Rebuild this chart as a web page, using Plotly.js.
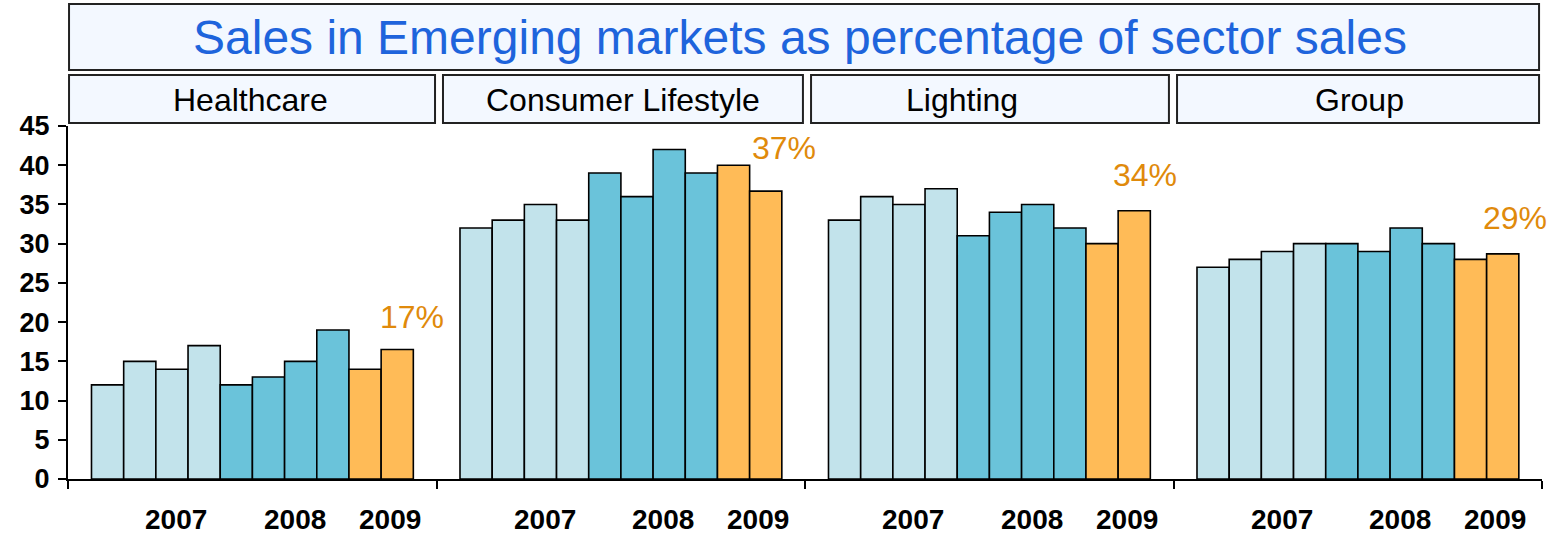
<!DOCTYPE html>
<html>
<head>
<meta charset="utf-8">
<script src="https://cdn.plot.ly/plotly-3.0.1.min.js"></script>
<style>
  html, body { margin: 0; padding: 0; background: #ffffff; }
  #chart { width: 1553px; height: 536px; }
</style>
</head>
<body>
<div id="chart"></div>
<script>
// ---------------- data ----------------
const quarters = ['Q1 2007','Q2 2007','Q3 2007','Q4 2007','Q1 2008','Q2 2008','Q3 2008','Q4 2008','Q1 2009','Q2 2009'];
const quarterYear = ['2007','2007','2007','2007','2008','2008','2008','2008','2009','2009'];
const segments = ['Healthcare','Consumer Lifestyle','Lighting','Group'];
const healthcare = [12, 15, 14, 17, 12, 13, 15, 19, 14, 16.5];
const consumerLifestyle = [32, 33, 35, 33, 39, 36, 42, 39, 40, 36.7];
const lighting = [33, 36, 35, 37, 31, 34, 35, 32, 30, 34.2];
const group = [27, 28, 29, 30, 30, 29, 32, 30, 28, 28.7];
const yearTickLabels = ['2007', '2008', '2009'];
const latestLabels = ['17%', '37%', '34%', '29%'];
const yTickValues = [0, 5, 10, 15, 20, 25, 30, 35, 40, 45];
const chartTitle = 'Sales in Emerging markets as percentage of sector sales';

// ---------------- styling ----------------
const yearColors = { '2007': '#C2E3EB', '2008': '#6AC3DA', '2009': '#FFBB57' };
const FONT = 'Liberation Sans, Arial, Helvetica, sans-serif';
const series = [healthcare, consumerLifestyle, lighting, group];
const axisIds = ['x', 'x2', 'x3', 'x4'];
const xRange = [-1.23, 10.22];

const traces = series.map((vals, i) => ({
  type: 'bar',
  x: quarters,
  y: vals,
  xaxis: axisIds[i],
  yaxis: 'y',
  marker: {
    color: quarterYear.map(yr => yearColors[yr]),
    line: { color: '#000000', width: 1.6 }
  },
  hoverinfo: 'x+y',
  showlegend: false
}));

const layout = {
  width: 1553,
  height: 536,
  autosize: false,
  paper_bgcolor: '#ffffff',
  plot_bgcolor: '#ffffff',
  margin: { l: 68, r: 11, t: 126, b: 57, pad: 0 },
  bargap: 0,
  showlegend: false,
  font: { family: FONT, color: '#000000' },
  yaxis: {
    range: [0, 45],
    tickmode: 'array',
    tickvals: yTickValues,
    ticktext: yTickValues.map(String),
    ticks: 'outside',
    ticklen: 8,
    tickwidth: 2,
    tickcolor: '#000000',
    showline: true,
    linecolor: '#000000',
    linewidth: 2,
    showgrid: false,
    zeroline: false,
    tickfont: { family: FONT, size: 27, weight: 'bold', color: '#000000' },
    ticklabelstandoff: 3,
    fixedrange: true
  },
  shapes: [],
  annotations: []
};

axisIds.forEach((id, i) => {
  const key = 'xaxis' + (i === 0 ? '' : (i + 1));
  layout[key] = {
    type: 'category',
    categoryorder: 'array',
    categoryarray: quarters,
    domain: [i / 4, (i + 1) / 4],
    anchor: 'y',
    range: xRange,
    tickmode: 'array',
    tickvals: xRange,
    ticktext: ['', ''],
    ticks: 'outside',
    ticklen: 8,
    tickwidth: 2,
    tickcolor: '#000000',
    showline: true,
    linecolor: '#000000',
    linewidth: 2,
    showgrid: false,
    zeroline: false,
    fixedrange: true
  };
});

// Title box
layout.shapes.push({
  type: 'rect', xref: 'paper', yref: 'paper',
  x0: 0.0007, x1: 0.998, y0: 1.1586, y1: 1.3456,
  fillcolor: '#F3F8FF', line: { color: '#222222', width: 2 }, layer: 'below'
});
layout.annotations.push({
  xref: 'paper', yref: 'paper', x: 0.4966, y: 1.252,
  xanchor: 'center', yanchor: 'middle', showarrow: false,
  text: chartTitle,
  font: { family: FONT, size: 48, color: '#1E64DC' }
});

// Segment header boxes
const headerX = [[0.0007, 0.2490], [0.2544, 0.4986], [0.5041, 0.7469], [0.7524, 0.9980]];
const headerTextX = [0.1235, 0.3765, 0.6065, 0.8765];
segments.forEach((name, i) => {
  layout.shapes.push({
    type: 'rect', xref: 'paper', yref: 'paper',
    x0: headerX[i][0], x1: headerX[i][1], y0: 1.0085, y1: 1.1445,
    fillcolor: '#F3F8FF', line: { color: '#222222', width: 2 }, layer: 'below'
  });
  layout.annotations.push({
    xref: 'paper', yref: 'paper', x: headerTextX[i], y: 1.074,
    xanchor: 'center', yanchor: 'middle', showarrow: false,
    text: name,
    font: { family: FONT, size: 32, color: '#000000' }
  });
});

// Year labels under each panel
const yearLabelPos = [2.14, 5.82, 8.76];
axisIds.forEach((id) => {
  yearTickLabels.forEach((yr, k) => {
    layout.annotations.push({
      xref: id, yref: 'paper', x: yearLabelPos[k], y: -0.115,
      xanchor: 'center', yanchor: 'middle', showarrow: false,
      text: yr,
      font: { family: FONT, size: 28, weight: 'bold', color: '#000000' }
    });
  });
});

// Latest-quarter percentage labels
const labelShift = [[15, 33], [18, 43], [11, 36], [12, 36]];
series.forEach((vals, i) => {
  layout.annotations.push({
    xref: axisIds[i], yref: 'y',
    x: quarters[quarters.length - 1], y: vals[vals.length - 1],
    xanchor: 'center', yanchor: 'middle', showarrow: false,
    xshift: labelShift[i][0], yshift: labelShift[i][1],
    text: latestLabels[i],
    font: { family: FONT, size: 32, color: '#E08A0B' }
  });
});

Plotly.newPlot('chart', traces, layout, { staticPlot: true, displayModeBar: false });
</script>
</body>
</html>
